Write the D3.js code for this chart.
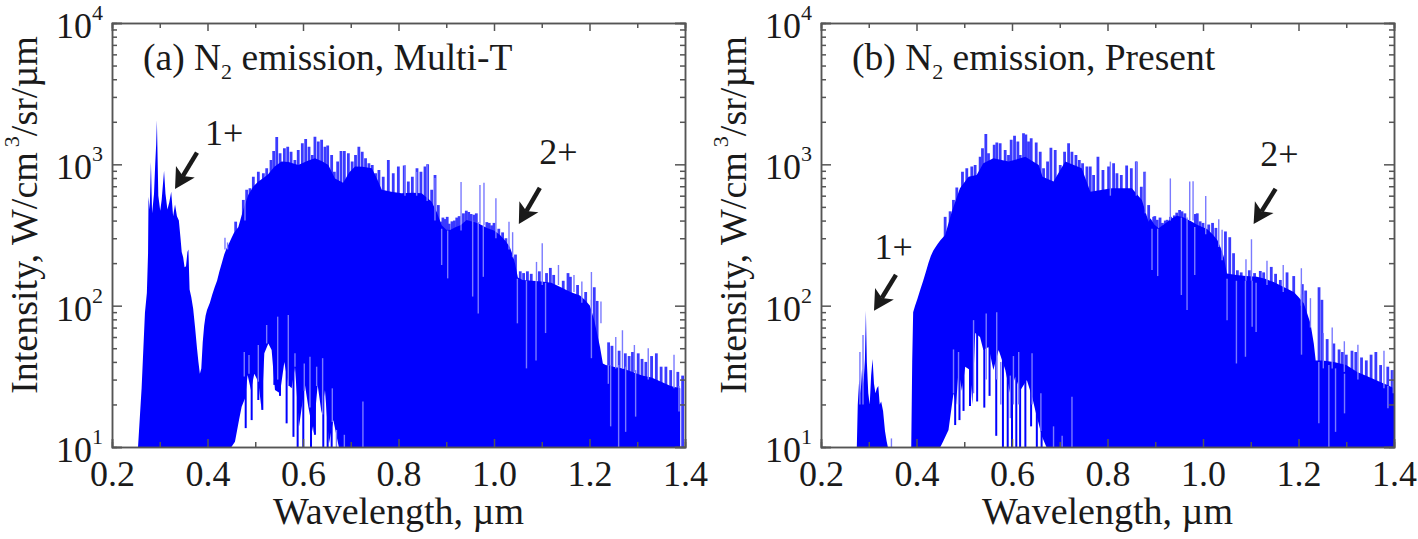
<!DOCTYPE html>
<meta charset="utf-8">
<title>N2 emission spectra</title>
<style>
    body { margin: 0; background: #fff; }
    text { font-family: "Liberation Serif", serif; fill: #1a1a1a; }
    .axis path, .axis line { stroke: #555; stroke-width: 1.5; }
</style>
<body>
<div id="chart"></div>
<script src="https://cdn.jsdelivr.net/npm/d3@7"></script>
<script>
// ---- panel (a) ----
// solid part of the spectrum
var wlA = [.2545,.262,.269,.273,.2755,.2765,.279,.2815,.284,.288,.2905,.2925,.294,.297,.301,.304,.309,.312,.316,.32,.324,.328,.332,.336,.34,.3435,.346,.349,.352,.355,.358,.36,.3625,.366,.37,.374,.378,.381,.384,.387,.39,.393,.396,.399,.405,.41,.415,.42,.425,.43,.435,.44,.445,.45,.455,.4646,.475,.4855,.4965,.5065,.517,.527,.54,.555,.57,.59,.61,.625,.64,.653,.667,.684,.697,.709,.725,.744,.755,.765,.785,.806,.83,.8485,.869,.88,.8904,.9,.908,.92,.93,.9425,.95,.96,.97,.985,1.0,1.0126,1.025,1.033,1.04,1.044,1.05,1.06,1.08,1.1,1.12,1.14,1.16,1.18,1.19,1.201,1.21,1.222,1.228,1.234,1.25,1.27,1.29,1.31,1.33,1.35,1.37,1.39,1.4];
var bodyA = [10,26,89,123,235,590,480,1040,450,620,1000,1380,2050,600,470,560,900,620,480,540,640,430,520,430,400,300,240,220,187,190,240,250,130,115,95,70,50,40,33,36,55,72,85,93,105,120,135,150,175,200,230,255,275,300,325,360,480,610,700,755,800,850,960,1047,1040,990,1060,1105,1050,990,795,740,880,964,960,938,790,660,640,625,630,625,545,460,370,345,343,360,370,404,398,390,378,354,340,316,285,260,225,199,158,152,150,148,145,135,125,118,110,100,79,51,39,38,37,36,34,32,31,29,27,26];
// thin lines behind the body, they make the jagged top edge
var toothWlA = [.459,.475,.482,.489,.496,.5065,.517,.524,.533,.5386,.545,.552,.561,.568,.575,.583,.590,.5986,.6056,.6126,.6195,.625,.632,.639,.646,.6517,.66,.6656,.6726,.6796,.6866,.695,.703,.71,.717,.724,.731,.738,.745,.752,.759,.768,.7787,.789,.7997,.812,.8206,.829,.8387,.847,.8555,.861,.8695,.8765,.8834,.89,.893,.897,.902,.906,.912,.917,.922,.927,.936,.942,.947,.952,.958,.963,.985,.99,.995,1.0,1.01,1.018,1.025,1.045,1.055,1.062,1.07,1.078,1.095,1.11,1.118,1.125,1.145,1.155,1.16,1.175,1.192,1.21,1.216,1.24,1.247,1.262,1.275,1.283,1.29,1.302,1.31,1.318,1.33,1.34,1.35,1.36,1.37,1.385,1.395];
var toothHiA = [393,560,660,677,818,887,865,938,1075,1245,1560,1200,1300,1330,1230,1075,1265,1410,1510,1330,1165,1570,1450,1490,1330,1360,1165,887,1047,1245,1245,1200,1047,1165,1330,1230,1105,1018,990,865,912,818,1075,865,964,980,755,818,938,887,964,1000,660,841,515,393,420,410,425,380,395,400,420,430,450,470,460,445,440,450,390,385,370,385,350,330,300,230,175,170,175,168,175,170,185,165,150,170,160,140,125,135,108,55,52,48,46,44,47,46,42,40,44,46,37,37,35,34,32];
// white hollow under the spectrum
var holeWlA = [.45,.4575,.466,.4715,.4785,.484,.491,.498,.5064,.5134,.519,.5274,.5343,.5413,.5518,.5609,.5692,.5762,.5832,.5916,.6041,.6111,.6216,.6307,.639,.646,.6544,.6635,.675];
var holeTopA = [10,10.9,15.5,19.3,22,32.3,25.3,33,29,18.3,46,54,48.6,25.3,24,40,27.5,26,37,13.9,27.5,19.3,12.5,27.5,17.3,25.3,10.6,15.5,10];
// dark lines hanging across the hollow
var hangWlA = [.480,.4925,.5064,.5148,.54,.5518,.5657,.58,.5888,.6006,.6167,.625,.6425,.6516,.66];
var hangLoA = [13.6,15.5,21.5,18.3,27.5,23,14.7,11.8,10,10,10,12.2,10,10,10];
// pale lines: spikes above the body and dips into it
var lightWlA = [.4366,.442,.4785,.477,.4869,.5064,.5239,.547,.5692,.5832,.6027,.6146,.6286,.6411,.6614,.67,.6866,.7255,.8136,.838,.860,.8764,.931,.9706,.979,1.004,1.0314,1.039,1.089,1.101,1.135,1.1675,1.184,1.204,1.224,1.255,1.269,1.294,1.323,1.377,.8904,.903,.9553,.967,.9776,1.049,1.068,1.088,1.108,1.204,1.2394,1.2443,1.261,1.2757,1.2966,1.3874];
var lightLoA = [250,250,400,31.5,33,29,54,30,27,37,25,19,27,17,15,10,10,10,600,600,550,400,340,380,370,300,250,220,150,140,140,125,105,100,75,36,36,34,30,26,194,156,116,88,160,75,36,41,64,42.5,28,14,10,12.8,16.4,17.8];
var lightHiA = [302,280,560,47,44.8,52.7,73,83.6,86,46,39,43.5,37,42.5,26,13.2,12.2,21,990,884,990,800,750,715,740,575,392,331,204,276,194,165,148,173,107,60,67,52.7,50,45,350,340,400,390,370,155,150,150,145,110,38,38,38,37,35,27];

// ---- panel (b) ----
var wlB = [.275,.277,.28,.283,.286,.289,.292,.294,.296,.299,.302,.305,.308,.311,.314,.317,.32,.323,.326,.33,.334,.3375,.34,.389,.391,.393,.397,.402,.408,.414,.42,.425,.43,.435,.44,.445,.45,.46,.474,.491,.509,.526,.54,.561,.593,.628,.656,.664,.687,.7115,.746,.764,.809,.851,.872,.886,.89,.898,.907,.92,.935,.9456,.96,.975,.9876,1.0085,1.02,1.03,1.0375,1.0435,1.05,1.07,1.09,1.113,1.13,1.148,1.17,1.19,1.2,1.211,1.225,1.232,1.236,1.25,1.274,1.3,1.323,1.35,1.37,1.386,1.4];
var bodyB = [10,20,30,24,36,28,42,92,40,24,20,32,42,28,24,26,27,20,21,18,13,11,10,10,40,90,100,112,130,150,175,200,225,245,260,275,290,316,463,677,818,841,1018,1105,1047,1130,990,818,755,1047,938,641,677,677,560,393,415,375,353,380,415,432,420,395,373,348,320,292,255,222,169,165,162,160,155,147,135,125,115,104,75,54,41,41,40,38,34,31,29,27.5,26];
var toothWlB = [.46,.4704,.4774,.4844,.4963,.5053,.5158,.5228,.5333,.5382,.5452,.5508,.5627,.5682,.5752,.5857,.5927,.5983,.6053,.6123,.6172,.6241,.629,.6346,.6402,.6507,.6591,.6661,.6745,.6815,.6905,.701,.7101,.7185,.7255,.7339,.7409,.7478,.7569,.7639,.7709,.78,.7905,.8023,.8128,.8198,.8289,.8401,.8499,.8603,.8708,.8778,.8862,.8967,.899,.904,.91,.915,.921,.925,.932,.94,.945,.951,.956,.962,.984,.988,.994,1.0,1.012,1.02,1.027,1.047,1.056,1.064,1.072,1.08,1.097,1.108,1.12,1.127,1.143,1.152,1.162,1.176,1.19,1.208,1.215,1.243,1.249,1.26,1.274,1.285,1.292,1.3,1.312,1.32,1.332,1.342,1.352,1.362,1.372,1.387,1.396];
var toothHiB = [425,465,560,686,887,938,964,990,1130,1300,1640,1200,1375,1430,1410,1265,1165,1490,1590,1450,1165,1660,1625,1450,1530,1430,1230,938,1047,1310,1265,990,1230,1410,1230,1165,1075,1018,964,964,841,1130,912,964,1018,865,841,980,938,1047,695,887,515,425,430,405,420,385,400,405,425,435,455,475,465,450,445,450,395,385,375,385,355,335,305,235,178,172,178,170,176,172,188,168,152,172,162,142,128,135,110,58,54,49,47,45,48,47,43,41,45,47,38,37,35,34,33];
var holeWlB = [.45,.456,.467,.4775,.483,.488,.495,.502,.512,.517,.523,.533,.54,.551,.561,.572,.586,.596,.607,.617,.631,.642,.652,.663,.672];
var holeTopB = [10,11,13.2,24,20,35,25,37,35,20,64,60,48.6,51,35,48.6,35,24,31.5,25,29.8,22.7,16.4,11.8,10];
var hangWlB = [.481,.49,.4985,.512,.527,.542,.553,.567,.581,.591,.6,.609,.617,.628,.64,.652,.662];
var hangLoB = [14.3,15.5,18,19.5,21,19,23,12,10,10,10,10,10,10,14,10,10];
var lightWlB = [.3475,.4775,.488,.5195,.546,.568,.603,.614,.642,.687,.7256,.705,.2815,.288,.6605,.5765,.5965,.806,.8604,.8792,.9316,.9722,.9792,1.0057,1.033,1.04,1.09,1.1015,1.134,1.168,1.206,1.225,1.252,1.2706,1.296,1.3244,1.379,1.3985,.8932,.9051,.9547,.9666,.9827,1.0504,1.07,1.0889,1.1029,1.1112,1.2063,1.2426,1.2636,1.2776,1.2964,1.3873];
var lightLoB = [10,24,20,24,30,30,20,20,20,10,10,10,20,20,13,20,16,600,600,450,400,400,400,320,260,210,150,150,140,125,100,70,36,36,34,30,26,24,179,162,119,93,165,79,39,43.5,71,65,45,14.7,10,12.8,17.3,18.8];
var lightHiB = [11.5,49,47,79,88,90,44,47,46,14,22.7,12,47,62,24,40,32,1045,1050,880,795,755,760,597,408,344,213,295,208,194,184,113,64,70,56,53,48,35,350,350,420,420,360,155,150,150,150,145,120,40,38,36,33,27];

// ---- axes ----
var xMajor = [0.2,0.4,0.6,0.8,1.0,1.2,1.4];
var xMinor = [0.3,0.5,0.7,0.9,1.1,1.3];
var yMajor = [10,100,1000,10000];
var yExp = ["1","2","3","4"];
var yMinor = [20,30,40,50,60,70,80,90,200,300,400,500,600,700,800,900,2000,3000,4000,5000,6000,7000,8000,9000];

var width = 1418, height = 539;
var plotW = 573, plotH = 424;

var x = d3.scaleLinear().domain([0.2, 1.4]).range([0, plotW]);
var y = d3.scaleLog().domain([10, 10000]).range([plotH, 0]);

var svg = d3.select("#chart").append("svg")
    .attr("width", width)
    .attr("height", height)
    .style("display", "block");

function drawPanel(left, top, d) {
    var g = svg.append("g").attr("transform", "translate(" + left + "," + top + ")");

    var area = d3.area()
        .x(function(p) { return x(p[0]); })
        .y0(y(10))
        .y1(function(p) { return y(p[1]); });

    // teeth first, the body paints over their lower part
    g.selectAll(".tooth").data(d3.zip(d.toothWl, d.toothHi)).enter().append("line")
        .attr("x1", function(p) { return x(p[0]); })
        .attr("x2", function(p) { return x(p[0]); })
        .attr("y1", y(10))
        .attr("y2", function(p) { return y(p[1]); })
        .attr("stroke", "#3a3aff")
        .attr("stroke-width", 2.8);

    g.append("path")
        .attr("d", area(d3.zip(d.wl, d.body)))
        .attr("fill", "#0000ff");
    g.append("path")
        .attr("d", area(d3.zip(d.holeWl, d.holeTop)))
        .attr("fill", "#fff");

    // dark lines over the hollow
    g.selectAll(".hang").data(d3.zip(d.hangWl, d.hangLo)).enter().append("line")
        .attr("x1", function(p) { return x(p[0]); })
        .attr("x2", function(p) { return x(p[0]); })
        .attr("y1", function(p) { return y(p[1]); })
        .attr("y2", y(100))
        .attr("stroke", "#0000ff")
        .attr("stroke-width", 2);

    // pale lines
    g.selectAll(".light").data(d3.zip(d.lightWl, d.lightLo, d.lightHi)).enter().append("line")
        .attr("x1", function(p) { return x(p[0]); })
        .attr("x2", function(p) { return x(p[0]); })
        .attr("y1", function(p) { return y(p[1]); })
        .attr("y2", function(p) { return y(p[2]); })
        .attr("stroke", "#7a7aff")
        .attr("stroke-width", 1.4);

    // ticks on all four sides, pointing inwards
    var sides = [
        [d3.axisBottom(x).tickValues(xMajor).tickSize(-8), "translate(0," + plotH + ")", true],
        [d3.axisBottom(x).tickValues(xMinor).tickSize(-5).tickFormat(""), "translate(0," + plotH + ")", false],
        [d3.axisTop(x).tickValues(xMajor).tickSize(-8).tickFormat(""), null, false],
        [d3.axisTop(x).tickValues(xMinor).tickSize(-5).tickFormat(""), null, false],
        [d3.axisLeft(y).tickValues(yMajor).tickSize(-10).tickFormat(""), null, false],
        [d3.axisLeft(y).tickValues(yMinor).tickSize(-5).tickFormat(""), null, false],
        [d3.axisRight(y).tickValues(yMajor).tickSize(-10).tickFormat(""), "translate(" + plotW + ",0)", false],
        [d3.axisRight(y).tickValues(yMinor).tickSize(-5).tickFormat(""), "translate(" + plotW + ",0)", false]
    ];
    sides.forEach(function(s) {
        var a = g.append("g").attr("class", "axis");
        if (s[1]) a.attr("transform", s[1]);
        a.call(s[0]);
        if (s[2]) {
            a.selectAll("text")
                .attr("font-size", 36)
                .attr("y", 13)
                .attr("dy", "0.71em")
                .style("font-family", "Liberation Serif");
        } else {
            a.selectAll("text").remove();
        }
    });

    // decade labels
    yMajor.forEach(function(v, i) {
        var t = g.append("text")
            .attr("x", -9)
            .attr("y", y(v) + 15)
            .attr("text-anchor", "end")
            .attr("font-size", 36);
        t.append("tspan").text("10");
        t.append("tspan").text(yExp[i]).attr("font-size", 22).attr("dy", -18);
    });

    // axis titles
    g.append("text")
        .attr("x", x(0.8))
        .attr("y", 77 + plotH)
        .attr("text-anchor", "middle")
        .attr("font-size", 38)
        .text("Wavelength, \u00b5m");

    var yt = g.append("text")
        .attr("transform", "translate(-75," + (plotH / 2 - 20) + ") rotate(-90)")
        .attr("text-anchor", "middle")
        .attr("font-size", 38);
    yt.append("tspan").text("Intensity,  W/cm");
    yt.append("tspan").text("3").attr("font-size", 22).attr("dy", -18).attr("dx", 5);
    yt.append("tspan").text("/sr/\u00b5m").attr("dy", 18);

    // panel title
    var tt = g.append("text")
        .attr("x", x(d.titleAt[0]))
        .attr("y", y(d.titleAt[1]))
        .attr("font-size", 37.5);
    tt.append("tspan").text(d.title[0]);
    tt.append("tspan").text("2").attr("font-size", 22).attr("dy", 9);
    tt.append("tspan").text(d.title[1]).attr("dy", -9);

    // band labels with arrows
    d.notes.forEach(function(n) {
        g.append("text")
            .attr("x", x(n.at[0]))
            .attr("y", y(n.at[1]))
            .attr("font-size", 36)
            .text(n.label);
        var x1 = x(n.tail[0]), y1 = y(n.tail[1]), x2 = x(n.tip[0]), y2 = y(n.tip[1]);
        var ang = Math.atan2(y2 - y1, x2 - x1);
        var ux = Math.cos(ang), uy = Math.sin(ang);
        var bx = x2 - ux * 20, by = y2 - uy * 20;   // base of the head
        var nx = x2 - ux * 15, ny = y2 - uy * 15;   // notch
        g.append("line")
            .attr("x1", x1).attr("y1", y1).attr("x2", nx).attr("y2", ny)
            .attr("stroke", "#1a1a1a").attr("stroke-width", 4.5);
        g.append("path")
            .attr("d", "M" + x2 + "," + y2 +
                "L" + (bx - uy * 11) + "," + (by + ux * 11) +
                "L" + nx + "," + ny +
                "L" + (bx + uy * 11) + "," + (by - ux * 11) + "Z")
            .attr("fill", "#1a1a1a");
    });
}

drawPanel(112, 23, {
    wl: wlA, body: bodyA,
    toothWl: toothWlA, toothHi: toothHiA,
    holeWl: holeWlA, holeTop: holeTopA,
    hangWl: hangWlA, hangLo: hangLoA,
    lightWl: lightWlA, lightLo: lightLoA, lightHi: lightHiA,
    title: ["(a) N", " emission, Multi-T"],
    titleAt: [0.265, 4650],
    notes: [
        {label: "1+", at: [0.395, 1380], tail: [0.378, 1210], tip: [0.332, 670]},
        {label: "2+", at: [1.095, 1000], tail: [1.096, 681], tip: [1.052, 378]}
    ]
});

drawPanel(821, 23, {
    wl: wlB, body: bodyB,
    toothWl: toothWlB, toothHi: toothHiB,
    holeWl: holeWlB, holeTop: holeTopB,
    hangWl: hangWlB, hangLo: hangLoB,
    lightWl: lightWlB, lightLo: lightLoB, lightHi: lightHiB,
    title: ["(b) N", " emission, Present"],
    titleAt: [0.265, 4650],
    notes: [
        {label: "1+", at: [0.312, 215], tail: [0.357, 165], tip: [0.311, 92]},
        {label: "2+", at: [1.12, 970], tail: [1.152, 670], tip: [1.106, 378]}
    ]
});
</script>
</body>
